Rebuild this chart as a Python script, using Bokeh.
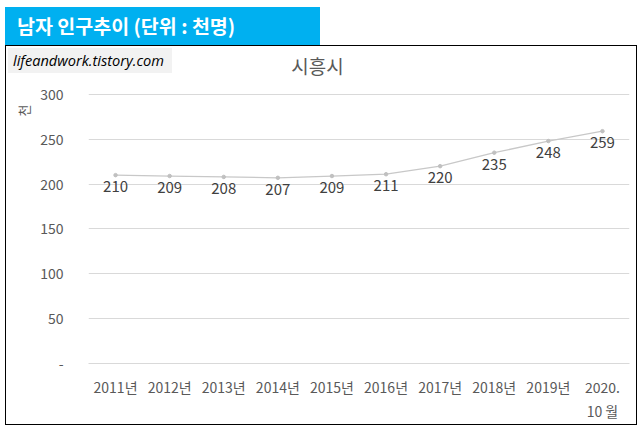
from bokeh.plotting import figure
from bokeh.models import Div, Range1d, FactorRange, ColumnDataSource, Title
from bokeh.layouts import column
from bokeh.embed import file_html
from bokeh.resources import INLINE
from bokeh.core.properties import value

chart_title = "시흥시"
unit_label = "천"
header_text = "남자 인구추이 (단위 : 천명)"
watermark_text = "lifeandwork.tistory.com"
years = ["2011년", "2012년", "2013년", "2014년", "2015년", "2016년",
         "2017년", "2018년", "2019년", "2020.\n10 월"]
population = [210, 209, 208, 207, 209, 211, 220, 235, 248, 259]
labels = [str(v) for v in population]
yticks = [0, 50, 100, 150, 200, 250, 300]

FONT = "Noto Sans CJK KR"

header = Div(
    text=("<div style=\"background:#00B0F0;width:315px;height:38px;line-height:38px;"
          "color:white;font-weight:bold;font-size:19.5px;font-family:'Noto Sans CJK KR';"
          "padding-left:12px;box-sizing:border-box;white-space:nowrap\">"
          + header_text + "</div>"),
    width=315, height=38, margin=(0, 0, 0, 0),
)

overlay = Div(
    text=("<div style=\"position:relative;width:600px;height:31px\">"
          "<div style=\"position:absolute;left:0;top:0;background:#F2F2F2;width:164px;"
          "height:25px;line-height:25px;color:black;font-style:italic;font-size:14.6px;"
          "font-family:'Open Sans';padding-left:5px;box-sizing:border-box;"
          "white-space:nowrap\">" + watermark_text + "</div>"
          "<div style=\"position:absolute;left:252px;top:5px;width:115px;height:25px;"
          "line-height:25px;text-align:center;color:#595959;font-size:19px;"
          "font-family:'Noto Sans CJK KR';white-space:nowrap\">" + chart_title + "</div>"
          "</div>"),
    width=600, height=31, margin=(-377, 0, 0, 3),
)

src = ColumnDataSource(dict(x=years, y=population, t=labels))

p = figure(x_range=FactorRange(*years, range_padding=0), y_range=Range1d(0, 301),
           width=632, height=380, output_backend="svg", toolbar_location=None,
           min_border_left=81, min_border_right=9, min_border_top=47,
           min_border_bottom=63, margin=(0, 0, 0, 0))
p.styles = {"border": "1.5px solid black", "box-sizing": "border-box"}
p.outline_line_color = None
p.background_fill_color = None
p.border_fill_color = None

p.add_layout(Title(text=unit_label, align="right", offset=11, standoff=10, text_font=FONT,
                   text_font_size="13px", text_font_style="normal",
                   text_color="#595959"), "left")

p.xgrid.grid_line_color = None
p.ygrid.grid_line_color = "#D9D9D9"
p.ygrid.ticker = yticks

p.yaxis.ticker = yticks
p.yaxis.major_label_overrides = {0: "-"}
p.yaxis.axis_line_color = None
p.yaxis.major_tick_line_color = None
p.yaxis.minor_tick_line_color = None
p.yaxis.major_label_standoff = 19
p.yaxis.major_label_text_font = FONT
p.yaxis.major_label_text_font_size = "14px"
p.yaxis.major_label_text_color = "#595959"

p.xaxis.axis_line_color = "#D9D9D9"
p.xaxis.major_tick_line_color = None
p.xaxis.minor_tick_line_color = None
p.xaxis.major_label_standoff = 7
p.xaxis.major_label_text_font = FONT
p.xaxis.major_label_text_font_size = "14px"
p.xaxis.major_label_text_color = "#595959"

p.line("x", "y", source=src, line_color="#C8C8C8", line_width=1.25)
p.scatter("x", "y", source=src, size=3.5, fill_color="#C0C0C0", line_color="#C0C0C0")
p.text("x", "y", text="t", source=src, text_align="center", text_baseline="top",
       y_offset=6, text_font=value(FONT), text_font_size="15px", text_color="#404040")

layout = column(header, p, overlay, spacing=0, margin=(7, 0, 0, 5))
open("out.html", "w").write(file_html(layout, INLINE))
